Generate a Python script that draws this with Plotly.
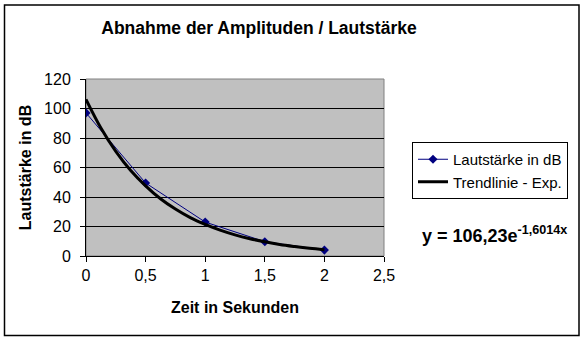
import plotly.graph_objects as go

# data
zeit = [0, 0.5, 1, 1.5, 2]
lautstaerke = [97, 49.5, 23, 9.7, 4]

# trendline values (exponential trend)
trend_x = [0, 0.125, 0.25, 0.375, 0.5, 0.625, 0.75, 0.875, 1, 1.125, 1.25, 1.375, 1.5, 1.625, 1.75, 1.875, 2]
trend_y = [106.2, 86.8, 71.0, 58.0, 47.6, 38.8, 31.8, 26.0, 21.4, 17.5, 14.3, 11.7, 9.6, 7.8, 6.4, 5.2, 4.3]

title = "Abnahme der Amplituden / Lautstärke"
x_title = "Zeit in Sekunden"
y_title = "Lautstärke in dB"
equation = "y = 106,23e<sup>-1,6014x</sup>"

FONT = "Liberation Sans, Arial, sans-serif"

fig = go.Figure()
fig.add_trace(go.Scatter(
    x=zeit, y=lautstaerke, mode="lines+markers", name="Lautstärke in dB",
    line=dict(color="#000080", width=1),
    marker=dict(symbol="diamond", size=7, color="#000080"),
))
fig.add_trace(go.Scatter(
    x=trend_x, y=trend_y, mode="lines", name="Trendlinie - Exp.",
    line=dict(color="black", width=3, shape="spline"),
))

L, R, T, B = 86, 201, 79, 86
pw = 585 - L - R
ph = 342 - T - B

def px(x):
    return (x - L) / pw

def py(y):
    return (342 - B - y) / ph

fig.update_layout(
    width=585, height=342,
    margin=dict(l=L, r=R, t=T, b=B),
    paper_bgcolor="white",
    plot_bgcolor="#C0C0C0",
    separators=",.",
    font=dict(family=FONT, size=15, color="black"),
    title=dict(text="<b>%s</b>" % title, x=259 / 585, xanchor="center",
               y=1 - 28 / 342, yanchor="middle", font=dict(size=17.5)),
    showlegend=True,
    legend=dict(x=px(412), y=py(142), xanchor="left", yanchor="top",
                bordercolor="black", borderwidth=1, bgcolor="white",
                font=dict(size=15), tracegroupgap=0, itemwidth=30),
    xaxis=dict(range=[0, 2.5], dtick=0.5, tick0=0, showgrid=False,
               showline=True, linecolor="black", linewidth=1,
               ticks="outside", ticklen=5, tickcolor="black",
               zeroline=False, tickfont=dict(size=16),
               title=dict(text="<b>%s</b>" % x_title, font=dict(size=16), standoff=18)),
    yaxis=dict(range=[0, 120], dtick=20, tick0=0, showgrid=True,
               gridcolor="black", gridwidth=1,
               showline=True, linecolor="black", linewidth=1,
               ticks="outside", ticklen=5, tickcolor="black",
               zeroline=False, tickfont=dict(size=16), ticklabelstandoff=6,
               title=dict(text="<b>%s</b>" % y_title, font=dict(size=16), standoff=8)),
    shapes=[
        dict(type="rect", xref="paper", yref="paper", x0=0, x1=1, y0=0, y1=1,
             line=dict(color="#808080", width=1), layer="below"),
        dict(type="rect", xref="paper", yref="paper",
             x0=px(4.5), x1=px(579), y0=py(335.5), y1=py(5),
             line=dict(color="black", width=1.5)),
    ],
    annotations=[
        dict(text="<b>%s</b>" % equation, xref="paper", yref="paper",
             x=px(494), y=py(234), xanchor="center", yanchor="middle",
             showarrow=False, font=dict(size=18)),
    ],
)

fig.write_html("out.html")
